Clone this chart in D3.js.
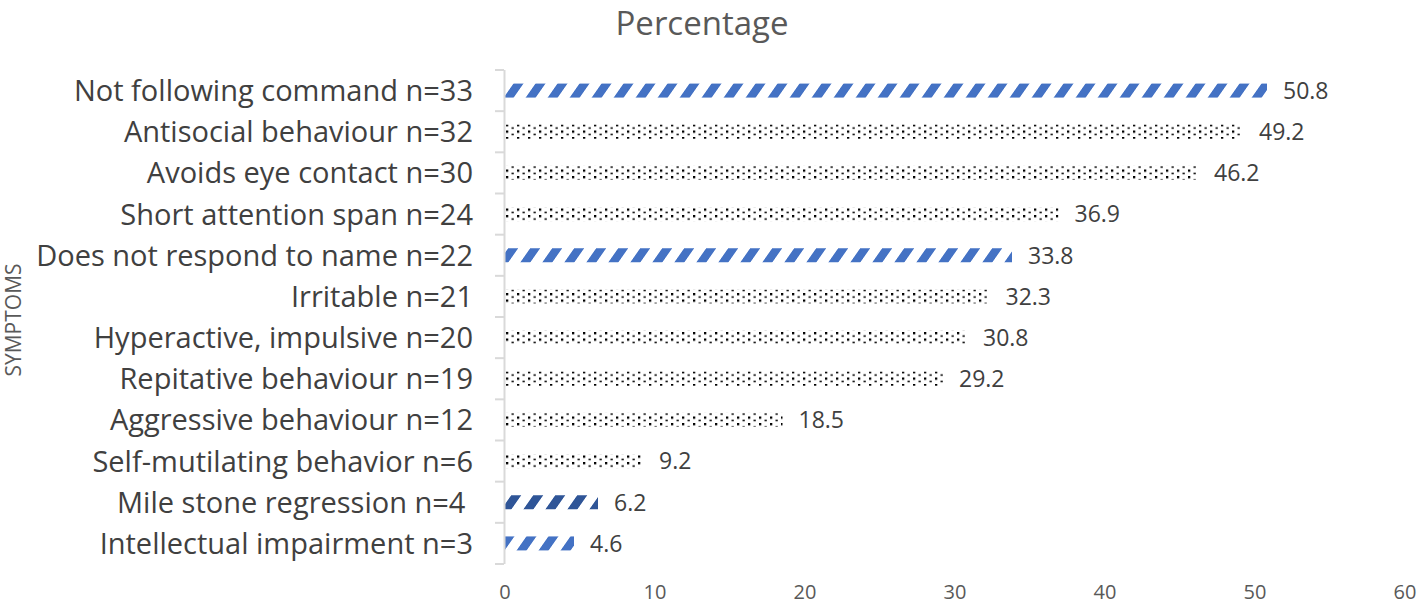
<!DOCTYPE html>
<html><head><meta charset="utf-8">
<script src="https://cdn.jsdelivr.net/npm/d3@7"></script>
<style>
body{margin:0;background:#fff;}
text{font-family:"Open Sans",sans-serif;}
</style></head>
<body><svg id="c" width="1424" height="604"></svg>
<script>
const categories = ["Not following command n=33","Antisocial behaviour n=32","Avoids eye contact n=30","Short attention span n=24","Does not respond to name n=22","Irritable n=21","Hyperactive, impulsive n=20","Repitative behaviour n=19","Aggressive behaviour n=12","Self-mutilating behavior n=6","Mile stone regression n=4 ","Intellectual impairment n=3"];
const values = [50.8,49.2,46.2,36.9,33.8,32.3,30.8,29.2,18.5,9.2,6.2,4.6];
const fills = ["stripe","dots","dots","dots","stripe","dots","dots","dots","dots","dots","stripeDark","stripe"];
const xTicks = [0,10,20,30,40,50,60];
const title = "Percentage";
const yTitle = "SYMPTOMS";

const svg = d3.select("#c");
const defs = svg.append("defs");
function stripe(id, color){
  const p = defs.append("pattern").attr("id",id).attr("patternUnits","userSpaceOnUse")
    .attr("width",22).attr("height",40).attr("patternTransform","skewX(-35)");
  p.append("rect").attr("x",0).attr("y",0).attr("width",10).attr("height",40).attr("fill",color);
}
stripe("stripe","#4472C4");
stripe("stripeDark","#2F5597");
const dp = defs.append("pattern").attr("id","dots").attr("patternUnits","userSpaceOnUse")
  .attr("width",11).attr("height",6.5).attr("y",72);
dp.append("rect").attr("width",11).attr("height",6.5).attr("fill","#fff");
dp.append("rect").attr("x",0).attr("y",0).attr("width",2.3).attr("height",2.3).attr("fill","#000");
dp.append("rect").attr("x",5.5).attr("y",3.3).attr("width",2.3).attr("height",1.5).attr("fill","#000");

const x = d3.scaleLinear().domain([0,60]).range([505,1405]);
const y = d3.scaleBand().domain(categories).range([70,564]).paddingInner(0.66).paddingOuter(0.33);
const step = y.step();

svg.append("text").attr("x",702).attr("y",35).attr("text-anchor","middle")
  .attr("font-size",33).attr("fill","#595959").text(title);

svg.append("text").attr("transform","translate(21,320) rotate(-90)").attr("text-anchor","middle")
  .attr("font-size",21).attr("fill","#595959").text(yTitle);

// bars
svg.selectAll("rect.bar").data(values).enter().append("rect").attr("class","bar")
  .attr("x",x(0)).attr("y",(d,i)=>y(categories[i]))
  .attr("width",d=>x(d)-x(0)).attr("height",y.bandwidth())
  .attr("fill",(d,i)=>`url(#${fills[i]})`);

// value labels
svg.selectAll("text.val").data(values).enter().append("text").attr("class","val")
  .attr("x",d=>x(d)+16).attr("y",(d,i)=>y(categories[i])+y.bandwidth()/2)
  .attr("dy","0.36em").attr("font-size",23).attr("fill","#404040").text(d=>d.toFixed(1));

// y axis
const ya = svg.append("g").attr("transform","translate(504,0)");
ya.append("line").attr("x1",0.5).attr("x2",0.5).attr("y1",70).attr("y2",564).attr("stroke","#d9d9d9").attr("stroke-width",2);
const bounds = d3.range(categories.length+1).map(i=>70+i*step);
ya.selectAll("line.t").data(bounds).enter().append("line").attr("class","t")
  .attr("x1",-9).attr("x2",0).attr("y1",d=>d).attr("y2",d=>d).attr("stroke","#d9d9d9").attr("stroke-width",2);
ya.selectAll("text.cat").data(categories).enter().append("text").attr("class","cat")
  .attr("x",-31).attr("y",d=>y(d)+y.bandwidth()/2).attr("dy","0.36em")
  .attr("text-anchor","end").attr("font-size",29).attr("fill","#404040")
  .style("white-space","pre").text(d=>d);

// x axis labels
const xa = svg.append("g").attr("transform","translate(0,592)");
xa.selectAll("text").data(xTicks).enter().append("text")
  .attr("x",d=>x(d)).attr("dy","0.36em").attr("text-anchor","middle")
  .attr("font-size",20).attr("fill","#595959").text(d=>d);
</script></body></html>
